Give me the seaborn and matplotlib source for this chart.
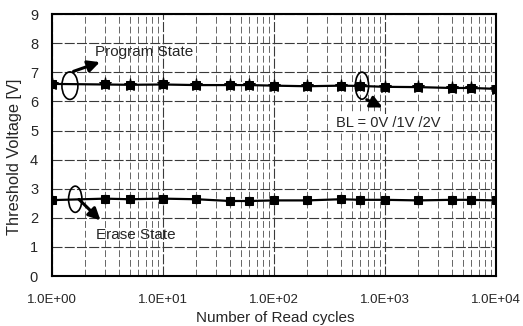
import numpy as np
import pandas as pd
import seaborn as sns
import matplotlib
matplotlib.use("Agg")
import matplotlib.pyplot as plt
from matplotlib.patches import Ellipse
from matplotlib.ticker import LogLocator, FixedLocator, FuncFormatter

# ---- data ----
read_cycles = [1, 3, 5, 10, 20, 40, 60, 100, 200, 400, 600, 1000, 2000, 4000, 6000, 10000]
program_vth = [6.60, 6.58, 6.57, 6.58, 6.56, 6.56, 6.56, 6.54, 6.52, 6.54, 6.53, 6.50, 6.49, 6.46, 6.46, 6.43]
erase_vth = [2.61, 2.66, 2.64, 2.66, 2.64, 2.58, 2.58, 2.60, 2.60, 2.64, 2.62, 2.62, 2.60, 2.62, 2.62, 2.60]
x_tick_values = [1, 10, 100, 1000, 10000]
x_tick_labels = ["1.0E+00", "1.0E+01", "1.0E+02", "1.0E+03", "1.0E+04"]
y_ticks = list(range(0, 10))

df = pd.DataFrame({
    "cycles": read_cycles * 2,
    "vth": program_vth + erase_vth,
    "state": ["Program"] * len(read_cycles) + ["Erase"] * len(read_cycles),
})

sns.set_style("white")
plt.rcParams["font.family"] = ["Liberation Sans", "DejaVu Sans"]

fig = plt.figure(figsize=(5.23, 3.26), dpi=100)
ax = fig.add_axes([0.0994, 0.153, 0.849, 0.804])

for st in ["Program", "Erase"]:
    d = df[df.state == st]
    sns.lineplot(data=d, x="cycles", y="vth", ax=ax, color="black", lw=1.6,
                 marker="s", markersize=5.5, markeredgecolor="black", markerfacecolor="black")
    if st == "Program":
        sns.lineplot(data=d, x="cycles", y="vth", ax=ax, color="black", lw=0,
                     marker="*", markersize=9.5, markeredgecolor="black", markerfacecolor="black")
    else:
        sns.lineplot(data=d, x="cycles", y="vth", ax=ax, color="black", lw=0,
                     marker="o", markersize=6, markeredgecolor="black", markerfacecolor="black")

ax.set_xscale("log")
ax.set_xlim(1, 10000)
ax.set_ylim(0, 9)
ax.set_yticks(y_ticks)
ax.xaxis.set_major_locator(FixedLocator(x_tick_values))
ax.set_xticklabels(x_tick_labels, fontsize=9.5)
ax.xaxis.set_minor_locator(LogLocator(base=10, subs=np.arange(2, 10)))
ax.xaxis.set_minor_formatter(FuncFormatter(lambda v, p: ""))
ax.tick_params(axis="y", labelsize=10.5, length=0, pad=10)
ax.tick_params(axis="x", which="both", length=0, pad=13)

ax.grid(True, which="major", axis="both", color="#3a3a3a", lw=0.8, ls=(0, (9, 2)))
ax.grid(True, which="minor", axis="x", color="#666666", lw=0.7, ls=(0, (7, 3)))
ax.set_axisbelow(True)
for s in ax.spines.values():
    s.set_color("black")
    s.set_linewidth(1.5)

ax.set_xlabel("Number of Read cycles", fontsize=11, va="center")
ax.xaxis.set_label_coords(0.502, -0.158)
ax.set_ylabel("Threshold Voltage [V]", fontsize=11.8)
ax.yaxis.set_label_coords(-0.067, 0.455)
ax.get_legend() and ax.get_legend().remove()

# annotations (ellipses + arrows + texts)
def data_ellipse(xc, yc, w, h):
    p = ax.transData.transform((xc, yc))
    pa = ax.transAxes.inverted().transform(p)
    e = Ellipse(pa, w, h, transform=ax.transAxes, fill=False, ec="black", lw=1.2)
    ax.add_patch(e)

data_ellipse(1.45, 6.54, 0.036, 0.105)
data_ellipse(1.62, 2.64, 0.030, 0.100)
data_ellipse(620, 6.54, 0.030, 0.103)

arrow_kw = dict(arrowstyle="-|>,head_length=0.7,head_width=0.35", color="black", lw=2.2)
ax.annotate("", xy=(2.85, 7.38), xytext=(1.48, 7.0), arrowprops=arrow_kw)
ax.annotate("", xy=(2.85, 1.85), xytext=(1.68, 2.7), arrowprops=arrow_kw)
ax.annotate("", xy=(1000, 5.75), xytext=(650, 6.1), arrowprops=arrow_kw)

ax.text(2.45, 7.7, "Program State", fontsize=11, va="center")
ax.text(2.5, 1.4, "Erase State", fontsize=11, va="center")
ax.text(363, 5.27, "BL = 0V /1V /2V", fontsize=10.5, va="center",
        bbox=dict(fc="white", ec="none", pad=1))

fig.savefig("out.png", dpi=100)
